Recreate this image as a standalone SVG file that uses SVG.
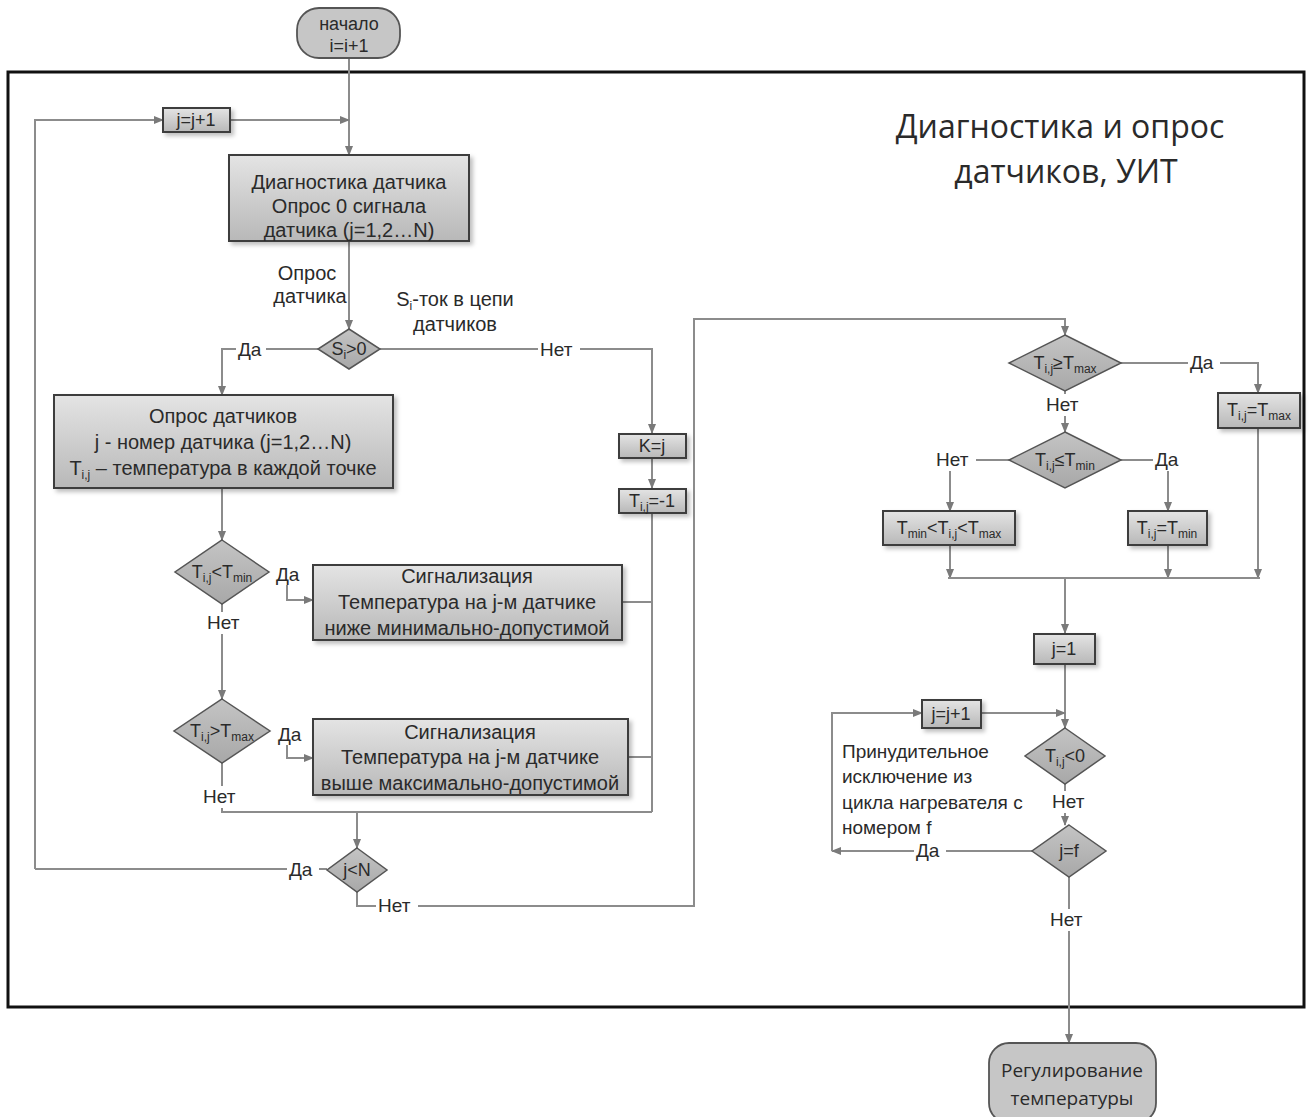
<svg xmlns="http://www.w3.org/2000/svg" width="1309" height="1117" viewBox="0 0 1309 1117">
<defs>
<linearGradient id="g" x1="0" y1="0" x2="0" y2="1">
<stop offset="0" stop-color="#e4e4e4"/>
<stop offset="1" stop-color="#b8b8b8"/>
</linearGradient>
<linearGradient id="gd" x1="0" y1="0" x2="0" y2="1">
<stop offset="0" stop-color="#c4c4c4"/>
<stop offset="1" stop-color="#a8a8a8"/>
</linearGradient>
<filter id="sh" x="-10%" y="-10%" width="130%" height="140%">
<feDropShadow dx="3" dy="3" stdDeviation="2" flood-color="#000" flood-opacity="0.25"/>
</filter>
<marker id="a" viewBox="0 0 10 10" refX="9" refY="5" markerWidth="5" markerHeight="5" orient="auto">
<path d="M0,1 L10,5 L0,9 z" fill="#7a7a7a"/>
</marker>
<style>
.box{fill:url(#g);stroke:#3c3c3c;stroke-width:2;filter:url(#sh)}
.dia{fill:url(#gd);stroke:#555;stroke-width:1.5}
.term{fill:#c6c6c6;stroke:#555;stroke-width:1.8}
.ln{stroke:#8c8c8c;stroke-width:2;fill:none}
.ar{marker-end:url(#a)}
.t{font-family:"Liberation Sans",Arial,sans-serif;font-size:20px;fill:#2a2a2a;text-anchor:middle}
.m{font-size:18px}
.l{font-family:"Liberation Sans",Arial,sans-serif;font-size:19px;fill:#2a2a2a;text-anchor:start}
.c{font-family:"Open Sans","Liberation Sans",sans-serif;fill:#2a2a2a;text-anchor:middle}
.s{font-size:12px}
.bg{fill:#fff}
</style>
</defs>
<rect width="1309" height="1117" fill="#fff"/>
<rect x="8" y="72" width="1296" height="935" fill="none" stroke="#111" stroke-width="3"/>

<g id="title">
<text class="c" x="1060" y="138" font-size="32">Диагностика и опрос</text>
<text class="c" x="1066" y="183" font-size="32">датчиков, УИТ</text>
</g>

<g id="connectors">
<path class="ln ar" d="M349,58 V155"/>
<path class="ln ar" d="M230,120 H349"/>
<path class="ln ar" d="M35,869 V120 H163"/>
<path class="ln" d="M327,869 H35"/>
<path class="ln ar" d="M349,241 V329"/>
<path class="ln ar" d="M318,349 H222 V395"/>
<path class="ln ar" d="M380,349 H652 V433"/>
<path class="ln ar" d="M652,458 V488"/>
<path class="ln" d="M652,513 V812"/>
<path class="ln" d="M622,602 H652"/>
<path class="ln" d="M628,757 H652"/>
<path class="ln ar" d="M222,488 V540"/>
<path class="ln ar" d="M287,585 V600 H313"/>
<path class="ln ar" d="M222,604 V699"/>
<path class="ln ar" d="M287,745 V758 H313"/>
<path class="ln" d="M222,763 V812 H652"/>
<path class="ln ar" d="M357,812 V848"/>
<path class="ln ar" d="M357,892 V906 H694 V319 H1065 V335"/>
<path class="ln ar" d="M1121,363 H1258 V393"/>
<path class="ln ar" d="M1065,391 V432"/>
<path class="ln ar" d="M1009,460 H950 V511"/>
<path class="ln ar" d="M1121,460 H1168 V511"/>
<path class="ln ar" d="M950,545 V578"/>
<path class="ln ar" d="M1168,545 V578"/>
<path class="ln ar" d="M1258,428 V578"/>
<path class="ln" d="M948,578 H1260"/>
<path class="ln ar" d="M1065,578 V633"/>
<path class="ln ar" d="M1065,663 V728"/>
<path class="ln ar" d="M981,713 H1065"/>
<path class="ln ar" d="M1065,783 V825"/>
<path class="ln ar" d="M1032,851 H832"/>
<path class="ln ar" d="M832,851 V713 H922"/>
<path class="ln ar" d="M1069,877 V1043"/>
</g>

<g id="edge-labels">
<rect class="bg" x="236" y="339" width="30" height="22"/>
<text class="l" x="238" y="356">Да</text>
<rect class="bg" x="538" y="339" width="42" height="22"/>
<text class="l" x="540" y="356">Нет</text>
<text class="l" x="276" y="581">Да</text>
<rect class="bg" x="205" y="612" width="42" height="22"/>
<text class="l" x="207" y="629">Нет</text>
<text class="l" x="278" y="741">Да</text>
<rect class="bg" x="200" y="786" width="44" height="22"/>
<text class="l" x="203" y="803">Нет</text>
<rect class="bg" x="287" y="858" width="32" height="22"/>
<text class="l" x="289" y="876">Да</text>
<rect class="bg" x="376" y="895" width="42" height="22"/>
<text class="l" x="378" y="912">Нет</text>
<rect class="bg" x="1188" y="352" width="32" height="22"/>
<text class="l" x="1190" y="369">Да</text>
<rect class="bg" x="1044" y="394" width="44" height="22"/>
<text class="l" x="1046" y="411">Нет</text>
<rect class="bg" x="934" y="449" width="42" height="22"/>
<text class="l" x="936" y="466">Нет</text>
<rect class="bg" x="1153" y="449" width="32" height="22"/>
<text class="l" x="1155" y="466">Да</text>
<rect class="bg" x="1050" y="791" width="42" height="22"/>
<text class="l" x="1052" y="808">Нет</text>
<rect class="bg" x="914" y="840" width="32" height="22"/>
<text class="l" x="916" y="857">Да</text>
<rect class="bg" x="1048" y="909" width="42" height="22"/>
<text class="l" x="1050" y="926">Нет</text>
</g>

<g id="annotations">
<text class="t" x="307" y="280" font-size="19">Опрос</text>
<text class="t" x="310" y="303" font-size="19">датчика</text>
<text class="t" x="455" y="306" font-size="19">S<tspan class="s" dy="4">i</tspan><tspan dy="-4">-ток в цепи</tspan></text>
<text class="t" x="455" y="331" font-size="19">датчиков</text>
<text class="l" x="842" y="758" font-size="20">Принудительное</text>
<text class="l" x="842" y="783" font-size="20">исключение из</text>
<text class="l" x="842" y="809" font-size="20">цикла нагревателя с</text>
<text class="l" x="842" y="834" font-size="20">номером f</text>
</g>

<g id="start">
<rect class="term" x="297" y="8" width="103" height="50" rx="22"/>
<text class="t m" x="349" y="30">начало</text>
<text class="t m" x="349" y="52">i=i+1</text>
</g>

<g id="inc-j-left">
<rect class="box" x="163" y="108" width="67" height="24"/>
<text class="t m" x="196" y="126">j=j+1</text>
</g>

<g id="diag">
<rect class="box" x="229" y="155" width="240" height="86"/>
<text class="t" x="349" y="189">Диагностика датчика</text>
<text class="t" x="349" y="213">Опрос 0 сигнала</text>
<text class="t" x="349" y="237">датчика (j=1,2…N)</text>
</g>

<g id="dec-s">
<polygon class="dia" points="349,329 380,349 349,369 318,349"/>
<text class="t m" x="349" y="355">S<tspan class="s" dy="4">i</tspan><tspan dy="-4">&gt;0</tspan></text>
</g>

<g id="poll">
<rect class="box" x="54" y="395" width="339" height="93"/>
<text class="t" x="223" y="423">Опрос датчиков</text>
<text class="t" x="223" y="449">j - номер датчика (j=1,2…N)</text>
<text class="t" x="223" y="475">T<tspan class="s" dy="4">i,j</tspan><tspan dy="-4"> – температура в каждой точке</tspan></text>
</g>

<g id="dec-min">
<polygon class="dia" points="222,540 269,572 222,604 175,572"/>
<text class="t m" x="222" y="578">T<tspan class="s" dy="4">i,j</tspan><tspan dy="-4">&lt;T</tspan><tspan class="s" dy="4">min</tspan></text>
</g>

<g id="alarm-min">
<rect class="box" x="313" y="565" width="309" height="75"/>
<text class="t" x="467" y="583">Сигнализация</text>
<text class="t" x="467" y="609">Температура на j-м датчике</text>
<text class="t" x="467" y="635">ниже минимально-допустимой</text>
</g>

<g id="dec-max">
<polygon class="dia" points="222,699 270,731 222,763 174,731"/>
<text class="t m" x="222" y="737">T<tspan class="s" dy="4">i,j</tspan><tspan dy="-4">&gt;T</tspan><tspan class="s" dy="4">max</tspan></text>
</g>

<g id="alarm-max">
<rect class="box" x="313" y="719" width="315" height="76"/>
<text class="t" x="470" y="739">Сигнализация</text>
<text class="t" x="470" y="764">Температура на j-м датчике</text>
<text class="t" x="470" y="790">выше максимально-допустимой</text>
</g>

<g id="k-eq-j">
<rect class="box" x="619" y="434" width="67" height="24"/>
<text class="t m" x="652" y="452">K=j</text>
</g>

<g id="t-neg">
<rect class="box" x="619" y="489" width="67" height="24"/>
<text class="t m" x="652" y="507">T<tspan class="s" dy="4">i,j</tspan><tspan dy="-4">=-1</tspan></text>
</g>

<g id="dec-jn">
<polygon class="dia" points="357,848 387,870 357,892 327,870"/>
<text class="t m" x="357" y="876">j&lt;N</text>
</g>

<g id="dec-ge-max">
<polygon class="dia" points="1065,335 1121,363 1065,391 1009,363"/>
<text class="t m" x="1065" y="369">T<tspan class="s" dy="4">i,j</tspan><tspan dy="-4">≥T</tspan><tspan class="s" dy="4">max</tspan></text>
</g>

<g id="set-max">
<rect class="box" x="1218" y="393" width="82" height="35"/>
<text class="t m" x="1259" y="416">T<tspan class="s" dy="4">i,j</tspan><tspan dy="-4">=T</tspan><tspan class="s" dy="4">max</tspan></text>
</g>

<g id="dec-le-min">
<polygon class="dia" points="1065,432 1121,460 1065,488 1009,460"/>
<text class="t m" x="1065" y="466">T<tspan class="s" dy="4">i,j</tspan><tspan dy="-4">≤T</tspan><tspan class="s" dy="4">min</tspan></text>
</g>

<g id="in-range">
<rect class="box" x="883" y="511" width="132" height="34"/>
<text class="t m" x="949" y="534">T<tspan class="s" dy="4">min</tspan><tspan dy="-4">&lt;T</tspan><tspan class="s" dy="4">i,j</tspan><tspan dy="-4">&lt;T</tspan><tspan class="s" dy="4">max</tspan></text>
</g>

<g id="set-min">
<rect class="box" x="1128" y="511" width="79" height="34"/>
<text class="t m" x="1167" y="534">T<tspan class="s" dy="4">i,j</tspan><tspan dy="-4">=T</tspan><tspan class="s" dy="4">min</tspan></text>
</g>

<g id="j-one">
<rect class="box" x="1034" y="634" width="61" height="30"/>
<text class="t m" x="1064" y="655">j=1</text>
</g>

<g id="inc-j-right">
<rect class="box" x="922" y="700" width="59" height="28"/>
<text class="t m" x="951" y="720">j=j+1</text>
</g>

<g id="dec-neg">
<polygon class="dia" points="1065,728 1105,756 1065,784 1025,756"/>
<text class="t m" x="1065" y="762">T<tspan class="s" dy="4">i,j</tspan><tspan dy="-4">&lt;0</tspan></text>
</g>

<g id="dec-jf">
<polygon class="dia" points="1069,825 1106,851 1069,877 1032,851"/>
<text class="t m" x="1069" y="857">j=f</text>
</g>

<g id="end">
<rect class="term" x="989" y="1043" width="167" height="80" rx="20"/>
<text class="c" x="1072" y="1077" font-size="19">Регулирование</text>
<text class="c" x="1072" y="1105" font-size="19">температуры</text>
</g>
</svg>
